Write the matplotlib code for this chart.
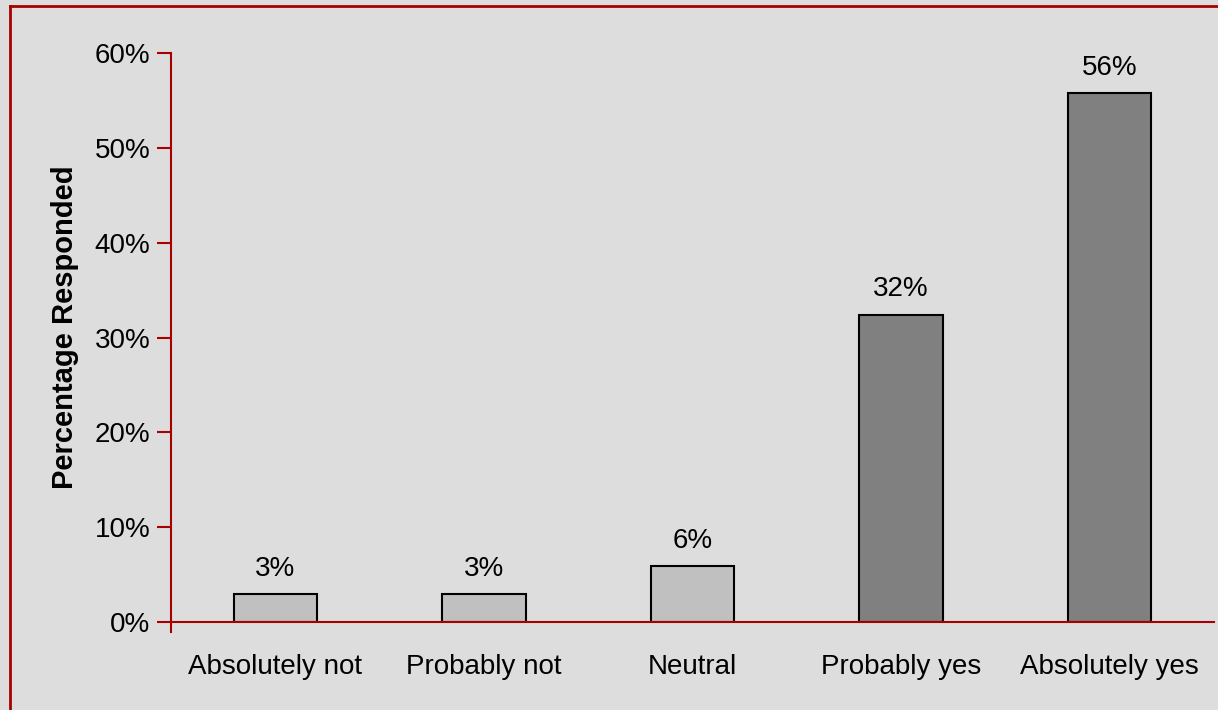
import matplotlib
matplotlib.use('Agg')
import matplotlib.pyplot as plt
from matplotlib.lines import Line2D
from matplotlib.ticker import FuncFormatter

# =============================================================================
# DATA
# =============================================================================
categories = ['Absolutely not', 'Probably not', 'Neutral', 'Probably yes', 'Absolutely yes']
values     = [2.95, 2.95, 5.9, 32.4, 55.8]
labels     = ['3%', '3%', '6%', '32%', '56%']
bar_colors = ['#C0C0C0', '#C0C0C0', '#C0C0C0', '#808080', '#808080']

BG      = '#DDDDDD'
DARKRED = '#A80000'
FS      = 20

plt.rcParams['font.family'] = ['Liberation Sans', 'DejaVu Sans']

fig = plt.figure(figsize=(12.18, 7.10), dpi=100, facecolor=BG)
ax = fig.add_axes([171 / 1218, 1 - 622 / 710, 1043 / 1218, 569 / 710], facecolor=BG)

x = list(range(len(categories)))
ax.bar(x, values, width=0.4, color=bar_colors, edgecolor='black', linewidth=1.5, zorder=2)

for xi, v, lab in zip(x, values, labels):
    ax.text(xi, v + 1.3, lab, ha='center', va='bottom', fontsize=FS)

ax.set_xlim(-0.5, len(categories) - 0.5)
ax.set_ylim(0, 60)
ax.set_yticks(range(0, 61, 10))
ax.yaxis.set_major_formatter(FuncFormatter(lambda v, p: f'{v:.0f}%'))
ax.set_xticks(x)
ax.set_xticklabels(categories, fontsize=FS)
ax.tick_params(axis='x', length=0, pad=23)
ax.tick_params(axis='y', labelsize=FS, color=DARKRED, length=10, width=1.5, pad=5)

# small tick below the origin
ax.plot([-0.5, -0.5], [0, -1.1], color=DARKRED, lw=1.5, clip_on=False)

for side in ['top', 'right']:
    ax.spines[side].set_visible(False)
for side in ['left', 'bottom']:
    ax.spines[side].set_color(DARKRED)
    ax.spines[side].set_linewidth(1.5)

ax.set_ylabel('Percentage Responded', fontsize=21, fontweight='bold')
ax.yaxis.set_label_coords(-0.088, 0.518)

# figure border (top and left visible)
fig.add_artist(Line2D([10 / 1218, 1], [1 - 6 / 710, 1 - 6 / 710], color=DARKRED, lw=2, transform=fig.transFigure))
fig.add_artist(Line2D([10 / 1218, 10 / 1218], [0, 1 - 6 / 710], color=DARKRED, lw=2, transform=fig.transFigure))

fig.savefig('out.png', dpi=100, facecolor=BG)
